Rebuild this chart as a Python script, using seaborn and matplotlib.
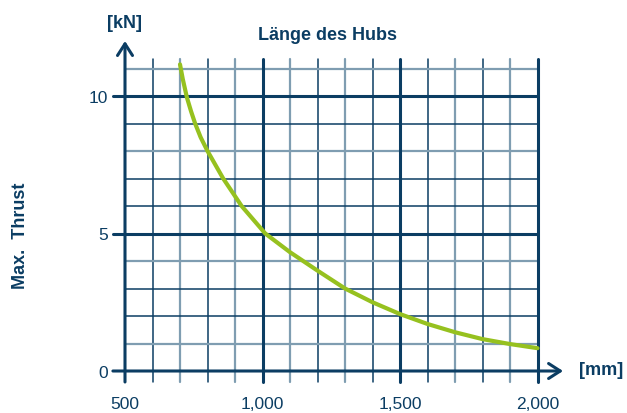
import numpy as np
import pandas as pd
import matplotlib
matplotlib.use("Agg")
import matplotlib.pyplot as plt
import seaborn as sns

# Werte
stroke_mm = [700, 710, 725, 740, 755, 775, 800, 857, 924, 1010, 1100, 1200,
             1300, 1400, 1500, 1600, 1700, 1800, 1900, 2000]
thrust_kn = [11.15, 10.62, 9.95, 9.45, 9.0, 8.5, 8.0, 7.0, 6.0, 5.0, 4.32,
             3.65, 3.0, 2.5, 2.07, 1.71, 1.41, 1.16, 0.98, 0.83]

x_ticks = [500, 1000, 1500, 2000]
x_tick_labels = ["500", "1,000", "1,500", "2,000"]
y_ticks = [0, 5, 10]
y_tick_labels = ["0", "5", "10"]

# Gitterfarben: "d" = dunkel, "l" = hell
v_grid = {600: "d", 700: "l", 800: "d", 900: "l", 1100: "l", 1200: "d",
          1300: "l", 1400: "d", 1600: "d", 1700: "l", 1800: "d", 1900: "l"}
h_grid = {1: "l", 2: "d", 3: "d", 4: "l", 6: "d", 7: "d", 8: "l", 9: "d", 11: "l"}

DARK = "#0b3d63"
LIGHT = "#7f9db1"
GREEN = "#96c11f"

sns.set_theme(style="white")
plt.rcParams['font.family'] = ['Liberation Sans', 'DejaVu Sans']

fig = plt.figure(figsize=(6.27, 4.14), dpi=100)
ax = fig.add_axes([125 / 627, 42 / 414, 440 / 627, 332.75 / 414])
ax.set_xlim(500, 2100)
ax.set_ylim(0, 12.1)
for s in ax.spines.values():
    s.set_visible(False)

# Gitter
for xv, c in v_grid.items():
    ax.plot([xv, xv], [-0.4, 11.35], color=DARK if c == "d" else LIGHT,
            lw=1.1 if c == "d" else 1.6, clip_on=False, zorder=1)
for xv in x_ticks[1:]:
    ax.plot([xv, xv], [-0.4, 11.35], color=DARK, lw=2.2, clip_on=False, zorder=2)
for yv, c in h_grid.items():
    ax.plot([500, 2000], [yv, yv], color=DARK if c == "d" else LIGHT,
            lw=1.1 if c == "d" else 1.6, clip_on=False, zorder=1)
for yv in y_ticks[1:]:
    ax.plot([456, 2000], [yv, yv], color=DARK, lw=2.2, clip_on=False, zorder=2)

# Achsen mit Pfeilen
arrow = '->,head_length=0.7,head_width=0.45'
ax.annotate('', xy=(500, 12.0), xytext=(500, -0.4), annotation_clip=False,
            arrowprops=dict(arrowstyle=arrow, lw=2.2, color=DARK, shrinkA=0, shrinkB=0),
            zorder=3)
ax.annotate('', xy=(2093, 0), xytext=(456, 0), annotation_clip=False,
            arrowprops=dict(arrowstyle=arrow, lw=2.2, color=DARK, shrinkA=0, shrinkB=0),
            zorder=3)

# Kurve
df = pd.DataFrame({"Hub": stroke_mm, "Thrust": thrust_kn})
sns.lineplot(data=df, x="Hub", y="Thrust", color=GREEN, lw=3, ax=ax, zorder=4)

ax.set_xticks(x_ticks)
ax.set_xticklabels(x_tick_labels)
ax.set_yticks(y_ticks)
ax.set_yticklabels(y_tick_labels)
ax.tick_params(axis='x', length=0, pad=18, labelsize=12.5, labelcolor=DARK)
ax.tick_params(axis='y', length=0, pad=12, labelsize=12.5, labelcolor=DARK)
ax.set_xlabel("")
ax.set_ylabel("")

fig.text(125 / 627, 1 - 23 / 414, "[kN]", ha="center", va="center",
         fontsize=13, fontweight="bold", color=DARK)
fig.text(328 / 627, 1 - 36 / 414, "Länge des Hubs", ha="center", va="center",
         fontsize=13, fontweight="bold", color=DARK)
fig.text(601 / 627, 1 - 371 / 414, "[mm]", ha="center", va="center",
         fontsize=13, fontweight="bold", color=DARK)
fig.text(21 / 627, 1 - 236 / 414, "Max.  Thrust", ha="center", va="center",
         rotation=90, fontsize=13, fontweight="bold", color=DARK)

fig.savefig("out.png", dpi=100)
